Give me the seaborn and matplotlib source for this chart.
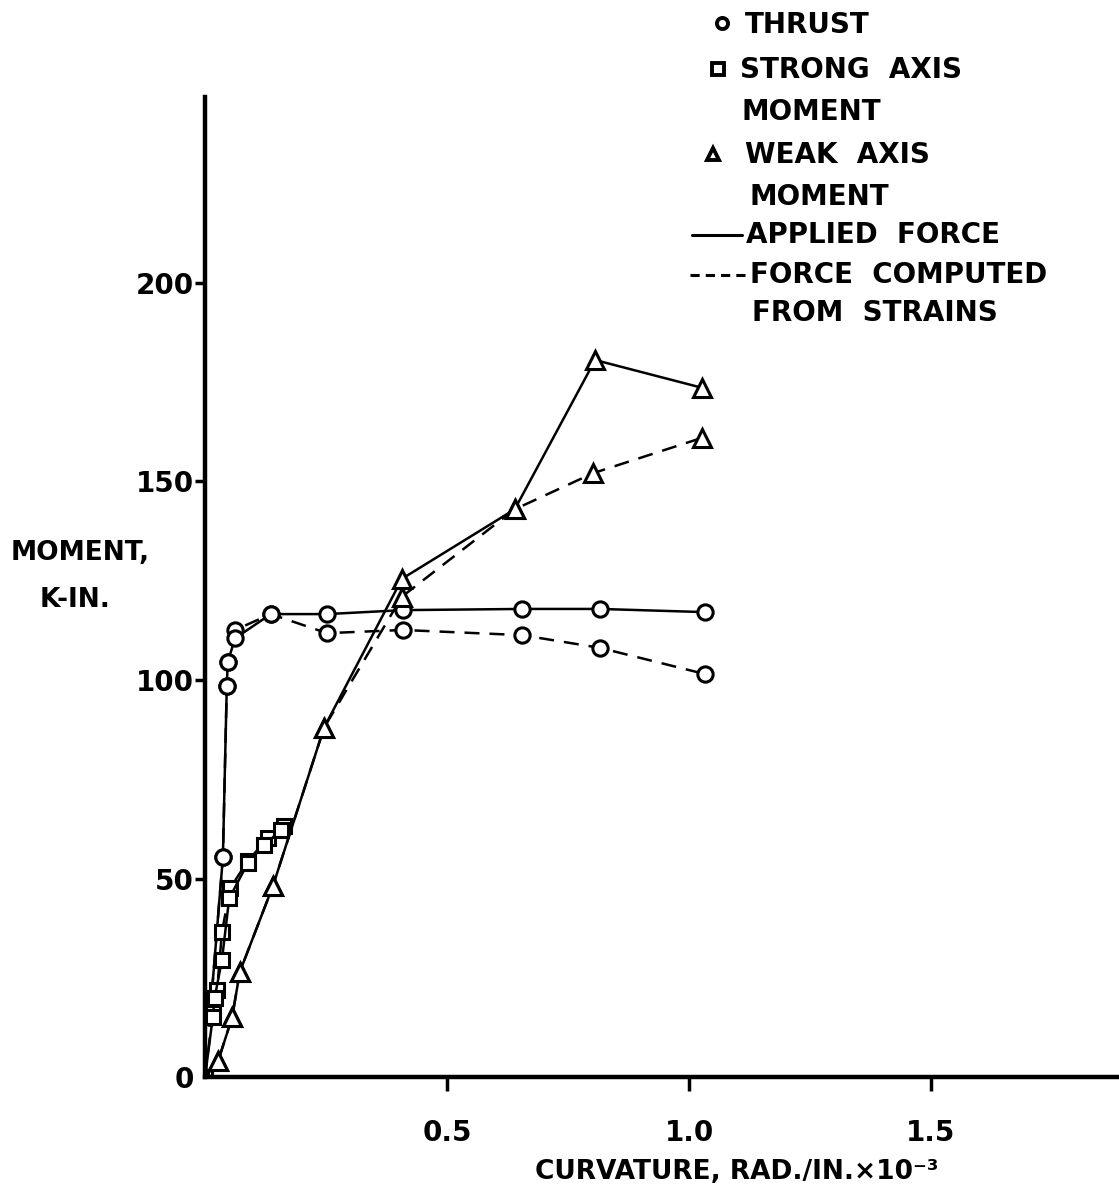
import matplotlib
matplotlib.use("Agg")
import matplotlib.pyplot as plt
import seaborn as sns
import pandas as pd

# ---------------- data ----------------
thrust_applied_x = [0.010, 0.037, 0.045, 0.047, 0.062, 0.136, 0.252, 0.409, 0.655, 0.816, 1.033]
thrust_applied_y = [15.0, 55.4, 98.5, 104.5, 110.5, 116.6, 116.6, 117.6, 117.9, 117.9, 117.1]

thrust_computed_x = [0.010, 0.037, 0.045, 0.047, 0.062, 0.136, 0.252, 0.409, 0.655, 0.816, 1.033]
thrust_computed_y = [15.0, 55.4, 98.5, 104.5, 112.6, 116.6, 111.8, 112.6, 111.3, 108.1, 101.5]

strong_applied_x = [0.000, 0.016, 0.020, 0.035, 0.050, 0.089, 0.122, 0.157]
strong_applied_y = [0.0, 15.0, 20.0, 29.5, 45.0, 54.0, 58.4, 62.2]

strong_computed_x = [0.000, 0.016, 0.025, 0.035, 0.052, 0.089, 0.130, 0.163]
strong_computed_y = [0.0, 16.0, 22.0, 36.5, 47.6, 54.5, 60.2, 63.2]

weak_applied_x = [0.000, 0.027, 0.056, 0.072, 0.140, 0.246, 0.407, 0.640, 0.806, 1.027]
weak_applied_y = [0.0, 4.0, 15.0, 26.5, 48.0, 88.0, 125.5, 143.0, 180.6, 173.6]

weak_computed_x = [0.000, 0.027, 0.056, 0.072, 0.140, 0.246, 0.407, 0.640, 0.802, 1.027]
weak_computed_y = [0.0, 4.0, 15.0, 26.5, 48.0, 88.0, 121.0, 143.0, 152.1, 161.0]

y_ticks = [0, 50, 100, 150, 200]
y_tick_labels = ["0", "50", "100", "150", "200"]
x_ticks = [0.5, 1.0, 1.5]
x_tick_labels = ["0.5", "1.0", "1.5"]

legend_lines = ["THRUST", "STRONG  AXIS", "MOMENT", "WEAK  AXIS", "MOMENT",
                "APPLIED  FORCE", "FORCE  COMPUTED", "FROM  STRAINS"]

# ---------------- figure ----------------
sns.set_theme(style="white")
plt.rcParams["font.family"] = ["DejaVu Sans"]
plt.rcParams["font.weight"] = "bold"
plt.rcParams["text.color"] = "black"
plt.rcParams["axes.labelcolor"] = "black"
plt.rcParams["xtick.color"] = "black"
plt.rcParams["ytick.color"] = "black"

W, H = 1119, 1193
fig = plt.figure(figsize=(W / 100, H / 100), dpi=100)
fig.patch.set_facecolor("white")
ax = fig.add_axes([205 / W, 116 / H, (W - 205) / W, (1096 - 116) / H])
ax.set_facecolor("white")


def draw(x, y, marker, ls, ms):
    df = pd.DataFrame({"x": x, "y": y})
    sns.lineplot(data=df, x="x", y="y", ax=ax, sort=False, estimator=None,
                 color="black", linewidth=1.8, linestyle=ls, marker=marker,
                 markersize=ms, markerfacecolor="white", markeredgecolor="black",
                 markeredgewidth=2.2)


dash = (0, (6, 4))
draw(thrust_computed_x, thrust_computed_y, "o", dash, 11)
draw(thrust_applied_x, thrust_applied_y, "o", "-", 11)
draw(strong_computed_x, strong_computed_y, "s", dash, 10)
draw(strong_applied_x, strong_applied_y, "s", "-", 10)
draw(weak_computed_x, weak_computed_y, "^", dash, 13)
draw(weak_applied_x, weak_applied_y, "^", "-", 13)

ax.set_xlim(0, (W - 205) / 484)
ax.set_ylim(0, (1077 - 97) / 3.97)
ax.set_xlabel("")
ax.set_ylabel("")

for side in ["top", "right"]:
    ax.spines[side].set_visible(False)
for side in ["left", "bottom"]:
    ax.spines[side].set_visible(True)
    ax.spines[side].set_linewidth(3.2)
    ax.spines[side].set_color("black")

ax.set_yticks(y_ticks)
ax.set_yticklabels(y_tick_labels, fontsize=20, fontweight="bold", color="black")
ax.set_xticks(x_ticks)
ax.set_xticklabels(x_tick_labels, fontsize=20, fontweight="bold", color="black")
ax.tick_params(axis="y", which="major", left=True, direction="out", length=7,
               width=2.5, pad=1, colors="black")
ax.tick_params(axis="x", which="major", bottom=True, direction="out", length=10,
               width=2.5, pad=20, colors="black")
ax.yaxis.get_major_ticks()[0].tick1line.set_visible(False)
ax.grid(False)

# axis titles
fig.text(80 / W, 1 - 553 / H, "MOMENT,", ha="center", va="center",
         fontsize=19, fontweight="bold", color="black")
fig.text(75 / W, 1 - 600 / H, "K-IN.", ha="center", va="center",
         fontsize=19, fontweight="bold", color="black")
fig.text(737 / W, 1 - 1172 / H, "CURVATURE, RAD./IN.×10⁻³", ha="center",
         va="center", fontsize=19, fontweight="bold", color="black")

# legend (drawn by hand in pixel coordinates of an overlay)
lax = fig.add_axes([0, 0, 1, 1])
lax.set_xlim(0, W)
lax.set_ylim(H, 0)
lax.axis("off")
lax.patch.set_alpha(0)

kw = dict(color="black", markerfacecolor="white", markeredgecolor="black",
          markeredgewidth=2.8, linestyle="none")
lax.plot([722], [23], marker="o", markersize=8, **kw)
lax.plot([718], [69], marker="s", markersize=8, **kw)
lax.plot([713], [154], marker="^", markersize=9, **kw)
lax.plot([692, 742], [235, 235], color="black", linewidth=2.2)
lax.plot([690, 748], [275, 275], color="black", linewidth=2.2, linestyle=(0, (3, 2)))

legend_pos = [(745, 25), (740, 70), (742, 112), (745, 155), (750, 197),
              (746, 235), (750, 275), (752, 313)]
for (lx, ly), txt in zip(legend_pos, legend_lines):
    lax.text(lx, ly, txt, ha="left", va="center", fontsize=20,
             fontweight="bold", color="black")

fig.savefig("out.png", dpi=100, facecolor="white")
